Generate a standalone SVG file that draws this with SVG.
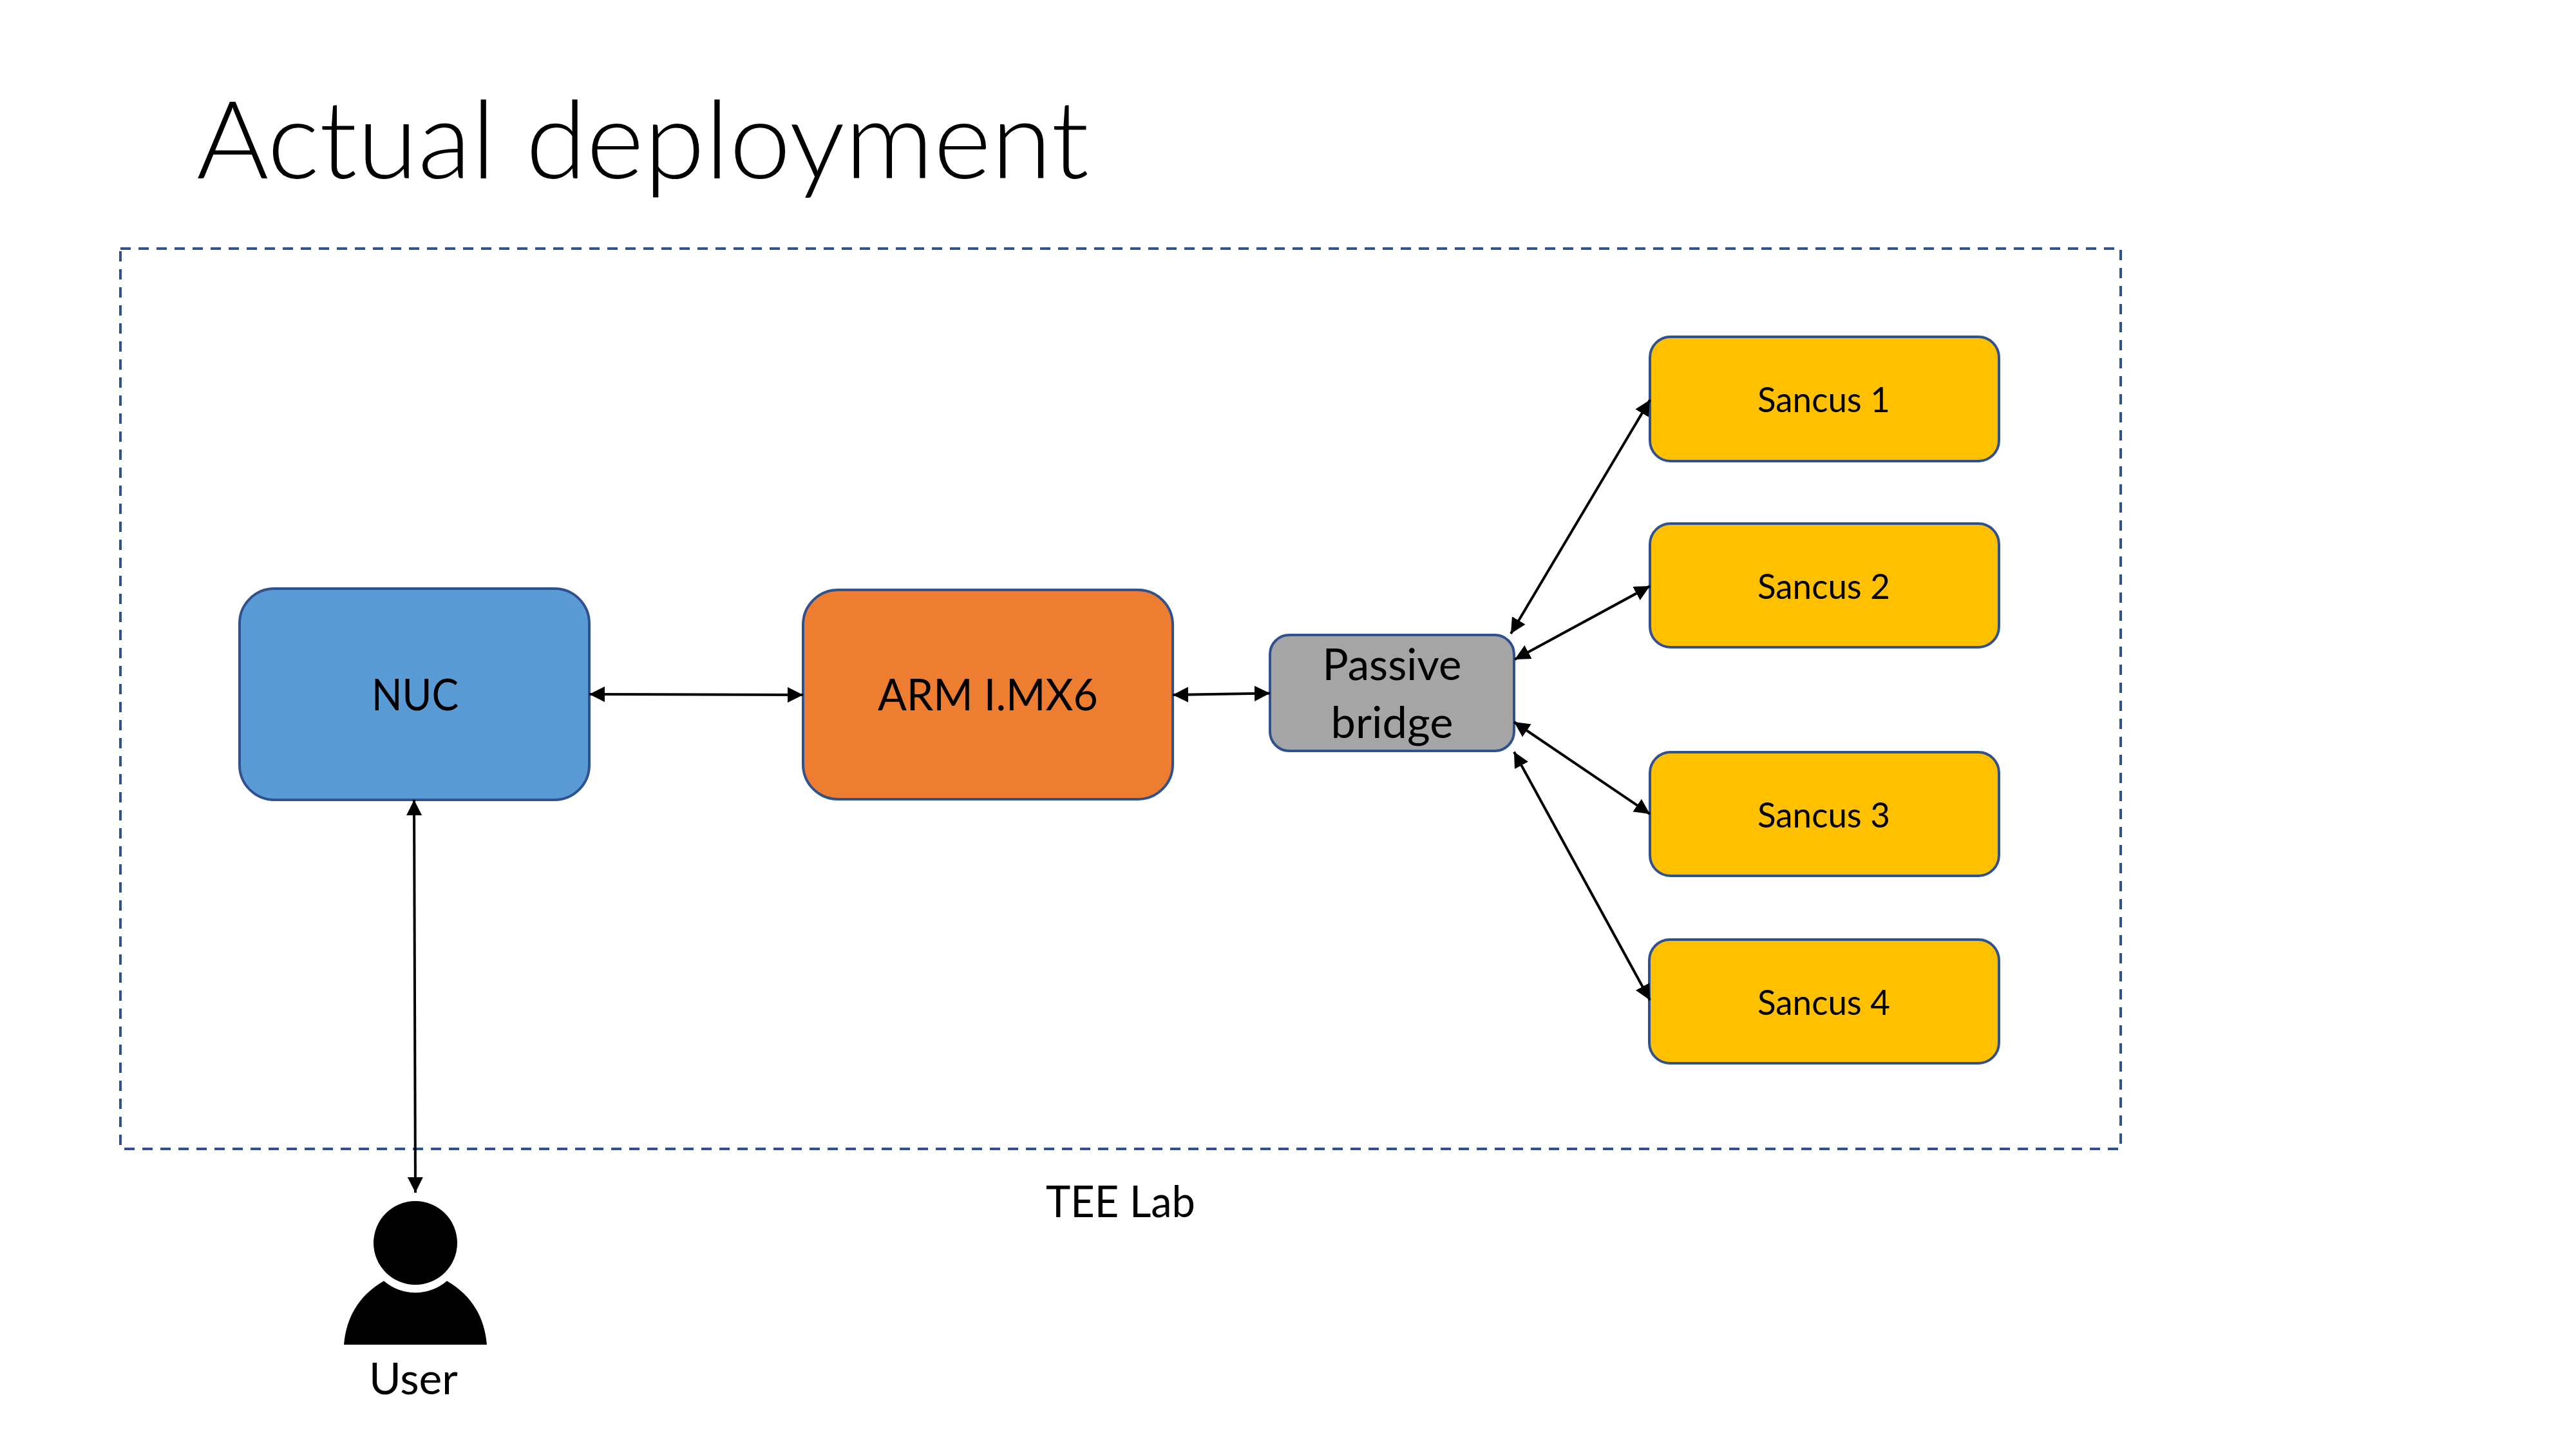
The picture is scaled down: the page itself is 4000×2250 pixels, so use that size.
<svg xmlns="http://www.w3.org/2000/svg" width="4000" height="2250" viewBox="0 0 4000 2250">
<style>
.box{stroke:#2F528F;stroke-width:4}
.t{font-family:Lato,"Open Sans","Liberation Sans",sans-serif;fill:#000;text-anchor:middle}
.big{font-size:68px}
.small{font-size:55px}
.conn line{stroke:#000;stroke-width:4;marker-start:url(#a);marker-end:url(#a)}
</style>
<defs>
<marker id="a" viewBox="0 0 24 24" refX="24" refY="12" markerWidth="24" markerHeight="24" markerUnits="userSpaceOnUse" orient="auto-start-reverse"><path d="M0 0L24 12L0 24Z" fill="#000"/></marker>
</defs>
<rect width="4000" height="2250" fill="#fff"/>
<text id="title" class="t" x="998" y="277" font-size="168" font-weight="300" textLength="1386" lengthAdjust="spacingAndGlyphs">Actual deployment</text>
<g id="tee-lab">
<rect x="187" y="386" width="3106" height="1398" fill="none" stroke="#2F528F" stroke-width="4" stroke-dasharray="16 12"/>
<text class="t big" x="1740" y="1890" textLength="232" lengthAdjust="spacingAndGlyphs">TEE Lab</text>
</g>
<g id="nuc"><rect class="box" x="372" y="914" width="543" height="328" rx="54" fill="#5B9BD5"/><text class="t big" x="644.5" y="1103" textLength="135" lengthAdjust="spacingAndGlyphs">NUC</text></g>
<g id="arm"><rect class="box" x="1247" y="916" width="574" height="325" rx="54" fill="#ED7D31"/><text class="t big" x="1534" y="1103" textLength="342" lengthAdjust="spacingAndGlyphs">ARM I.MX6</text></g>
<g id="bridge"><rect class="box" x="1972" y="986" width="379" height="180" rx="30" fill="#A5A5A5"/>
<text class="t big" x="2161.5" y="1056" textLength="216" lengthAdjust="spacingAndGlyphs">Passive</text>
<text class="t big" x="2161.5" y="1146" textLength="190" lengthAdjust="spacingAndGlyphs">bridge</text></g>
<g id="sancus1"><rect class="box" x="2562" y="523" width="542" height="193" rx="32" fill="#FFC000"/><text class="t small" x="2832" y="640" textLength="206" lengthAdjust="spacingAndGlyphs">Sancus 1</text></g>
<g id="sancus2"><rect class="box" x="2562" y="813" width="542" height="192" rx="32" fill="#FFC000"/><text class="t small" x="2832" y="930" textLength="206" lengthAdjust="spacingAndGlyphs">Sancus 2</text></g>
<g id="sancus3"><rect class="box" x="2562" y="1168" width="542" height="192" rx="32" fill="#FFC000"/><text class="t small" x="2832" y="1285" textLength="206" lengthAdjust="spacingAndGlyphs">Sancus 3</text></g>
<g id="sancus4"><rect class="box" x="2561" y="1459" width="543" height="192" rx="32" fill="#FFC000"/><text class="t small" x="2832" y="1576" textLength="206" lengthAdjust="spacingAndGlyphs">Sancus 4</text></g>
<g id="user">
<circle cx="645" cy="1930" r="65" fill="#000"/>
<path d="M534 2088C538 2042 560 2010 596 1989A75 75 0 0 0 694 1989C730 2010 752 2042 756 2088Z" fill="#000"/>
<text class="t big" x="642" y="2165" textLength="138" lengthAdjust="spacingAndGlyphs">User</text>
</g>
<g id="connectors" class="conn">
<line x1="915" y1="1078" x2="1247" y2="1079"/>
<line x1="1821" y1="1079" x2="1972" y2="1076.5"/>
<line x1="643" y1="1242" x2="645" y2="1852"/>
<line x1="2346" y1="984" x2="2562" y2="621"/>
<line x1="2352" y1="1024" x2="2562" y2="910"/>
<line x1="2351" y1="1121" x2="2562" y2="1264"/>
<line x1="2351" y1="1167.5" x2="2562" y2="1553"/>
</g>
</svg>
